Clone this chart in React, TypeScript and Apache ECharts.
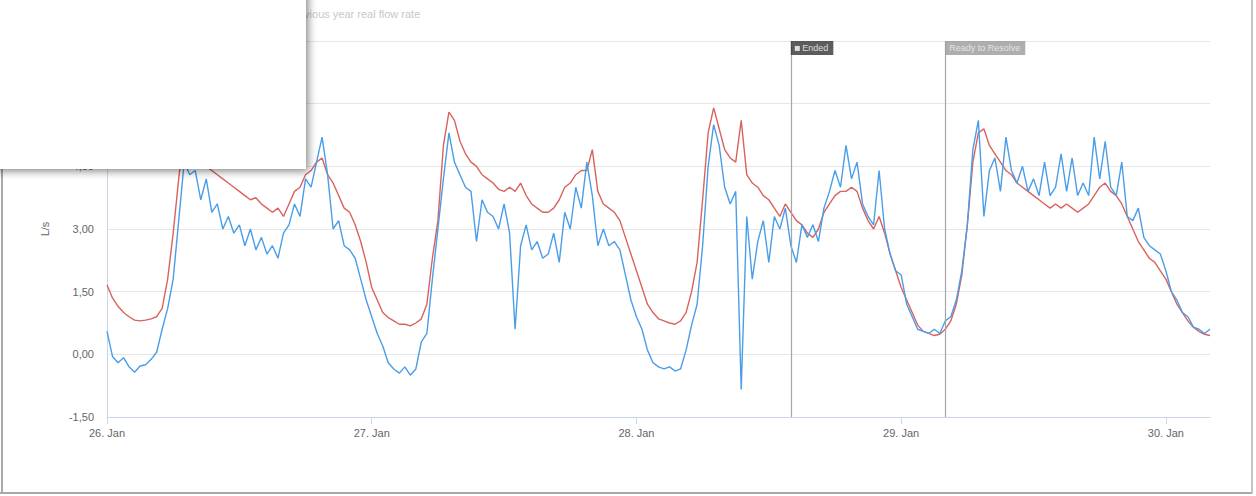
import React, { useEffect, useRef } from "react";
import * as echarts from "echarts";

// ---- time frame ----
const HOUR = 3600000;
const DAY = 24 * HOUR;
const START = Date.UTC(2021, 0, 26); // 26 Jan 00:00
const STEP = 30 * 60 * 1000; // half-hourly samples
const X_MAX = START + 4 * DAY + 4 * HOUR; // 30 Jan 04:00

const dayLabels = ["26. Jan", "27. Jan", "28. Jan", "29. Jan", "30. Jan"];
const dayValues = dayLabels.map((_, i) => START + i * DAY);

const yTicks = { min: -1.5, max: 7.5, interval: 1.5 };

const legendText = "Previous year real flow rate";
const axisName = "L/s";

// ---- events ----
const eventNames = ["Ended", "Ready to Resolve"];
const eventTimes = [START + 2 * DAY + 14 * HOUR, START + 3 * DAY + 4 * HOUR];

// ---- real flow rate (blue), L/s, every 30 min from 26 Jan 00:00 ----
const blue26 = [
  0.55, -0.05, -0.2, -0.08, -0.3, -0.43, -0.28, -0.25, -0.12, 0.05,
  0.6, 1.1, 1.8, 3.2, 4.6, 4.3, 4.4, 3.7, 4.2, 3.4,
  3.6, 3.0, 3.3, 2.9, 3.1, 2.6, 3.0, 2.5, 2.8, 2.4,
  2.6, 2.3, 2.9, 3.1, 3.6, 3.3, 4.2, 4.0, 4.6, 5.2,
  4.3, 3.0, 3.2, 2.6, 2.5, 2.3, 1.8, 1.3,
];
const blue27 = [
  0.9, 0.5, 0.2, -0.2, -0.35, -0.45, -0.3, -0.5, -0.35, 0.3,
  0.5, 1.8, 3.0, 4.2, 5.3, 4.6, 4.3, 4.0, 3.9, 2.7,
  3.7, 3.4, 3.3, 3.0, 3.6, 2.9, 0.6, 2.6, 3.1, 2.5,
  2.7, 2.3, 2.4, 2.9, 2.2, 3.4, 3.0, 4.0, 3.5, 4.6,
  3.8, 2.6, 3.0, 2.6, 2.7, 2.5, 1.9, 1.3,
];
const blue28 = [
  0.9, 0.6, 0.1, -0.2, -0.3, -0.35, -0.3, -0.4, -0.35, 0.1,
  0.7, 1.2, 2.6, 4.5, 5.5, 5.0, 4.0, 3.6, 3.9, -0.84,
  3.3, 1.8, 2.7, 3.2, 2.2, 3.3, 3.0, 3.5, 2.6, 2.2,
  3.1, 2.8, 3.1, 2.7, 3.5, 3.9, 4.4, 4.0, 5.0, 4.2,
  4.6, 3.6, 3.3, 3.1, 4.4, 3.0, 2.4, 2.0,
];
const blue29 = [
  1.9, 1.2, 0.9, 0.6, 0.55, 0.5, 0.6, 0.5, 0.8, 0.9,
  1.3, 2.0, 3.1, 4.9, 5.6, 3.3, 4.4, 4.7, 3.9, 5.2,
  4.4, 4.1, 4.5, 3.9, 4.2, 3.8, 4.6, 3.8, 4.0, 4.8,
  3.9, 4.7, 3.8, 4.1, 3.8, 5.2, 4.2, 5.1, 4.0, 3.8,
  4.6, 3.3, 3.2, 3.5, 2.8, 2.6, 2.5, 2.4,
];
const blue30 = [2.0, 1.5, 1.3, 1.0, 0.9, 0.65, 0.6, 0.5, 0.6];

// ---- previous year real flow rate (red), L/s, every 30 min ----
const red26 = [
  1.66, 1.35, 1.15, 1.0, 0.9, 0.82, 0.8, 0.82, 0.85, 0.9,
  1.1, 1.8, 2.9, 4.2, 5.3, 5.0, 4.8, 4.6, 4.5, 4.4,
  4.3, 4.2, 4.1, 4.0, 3.9, 3.8, 3.7, 3.75, 3.6, 3.5,
  3.4, 3.5, 3.3, 3.6, 3.9, 4.0, 4.3, 4.4, 4.6, 4.7,
  4.3, 4.1, 3.8, 3.5, 3.4, 3.1, 2.7, 2.2,
];
const red27 = [
  1.6, 1.3, 1.0, 0.88, 0.8, 0.72, 0.72, 0.68, 0.75, 0.85,
  1.2, 2.3, 3.2, 5.0, 5.8, 5.6, 5.1, 4.8, 4.6, 4.5,
  4.3, 4.2, 4.1, 3.95, 3.9, 4.0, 3.9, 4.1, 3.8, 3.6,
  3.5, 3.4, 3.4, 3.5, 3.7, 4.0, 4.1, 4.3, 4.4, 4.4,
  4.9, 3.9, 3.6, 3.5, 3.4, 3.2, 2.8, 2.4,
];
const red28 = [
  2.0, 1.6, 1.2, 1.0, 0.85, 0.8, 0.75, 0.72, 0.8, 1.0,
  1.5, 2.2, 3.7, 5.3, 5.9, 5.4, 4.9, 4.7, 4.6, 5.6,
  4.3, 4.1, 4.0, 3.8, 3.7, 3.5, 3.3, 3.6, 3.4, 3.2,
  3.1, 2.9, 2.8, 3.0, 3.4, 3.6, 3.8, 3.9, 3.9, 4.0,
  3.9, 3.5, 3.2, 3.0, 3.3, 2.9, 2.4, 2.0,
];
const red29 = [
  1.6, 1.3, 1.0, 0.7, 0.55, 0.5, 0.45, 0.48, 0.6, 0.8,
  1.2, 1.9, 3.1, 4.6, 5.3, 5.4, 5.0, 4.8, 4.6, 4.4,
  4.3, 4.1, 4.0, 3.9, 3.8, 3.7, 3.6, 3.5, 3.6, 3.5,
  3.6, 3.5, 3.4, 3.5, 3.6, 3.8, 4.0, 4.1, 3.9, 3.8,
  3.6, 3.3, 3.0, 2.7, 2.5, 2.3, 2.2, 2.0,
];
const red30 = [1.8, 1.5, 1.2, 1.0, 0.8, 0.65, 0.55, 0.48, 0.45];

const blueValues = [...blue26, ...blue27, ...blue28, ...blue29, ...blue30];
const redValues = [...red26, ...red27, ...red28, ...red29, ...red30];

const toPairs = (vals: number[]) => vals.map((v, i) => [START + i * STEP, v]);

const FONT = "'Liberation Sans', Arial, Helvetica, sans-serif";

export default function App() {
  const ref = useRef<HTMLDivElement>(null);

  useEffect(() => {
    if (!ref.current) return;
    const chart = echarts.init(ref.current, null, { renderer: "svg" });

    const eventStyles = [
      { backgroundColor: "#333333", color: "#ffffff", formatter: "{sq|} " + eventNames[0] },
      { backgroundColor: "#9a9a9a", color: "#f4f4f4", formatter: eventNames[1] },
    ];

    chart.setOption({
      animation: false,
      backgroundColor: "#ffffff",
      textStyle: { fontFamily: FONT },
      grid: { left: 107, right: 46, top: 41, bottom: 79, containLabel: false },
      xAxis: {
        type: "value",
        min: START,
        max: X_MAX,
        axisLine: { show: true, onZero: false, lineStyle: { color: "#ccd6eb", width: 1 } },
        axisTick: {
          show: true,
          customValues: dayValues,
          length: 7,
          lineStyle: { color: "#ccd6eb" },
        },
        axisLabel: {
          customValues: dayValues,
          formatter: (v: number) => {
            const idx = dayValues.indexOf(v);
            return idx >= 0 ? dayLabels[idx] : "";
          },
          color: "#666666",
          fontSize: 11,
          margin: 10,
          fontFamily: FONT,
        },
        splitLine: { show: false },
      },
      yAxis: {
        type: "value",
        min: yTicks.min,
        max: yTicks.max,
        interval: yTicks.interval,
        name: axisName,
        nameLocation: "middle",
        nameGap: 57,
        nameRotate: 90,
        nameTextStyle: { color: "#666666", fontSize: 11, fontFamily: FONT },
        axisLine: { show: true, lineStyle: { color: "#ccd6eb" } },
        axisTick: { show: false },
        axisLabel: {
          formatter: (v: number) => v.toFixed(2).replace(".", ","),
          color: "#666666",
          fontSize: 11,
          margin: 13,
          fontFamily: FONT,
        },
        splitLine: { show: true, lineStyle: { color: "#e6e6e6", width: 1 } },
      },
      series: [
        {
          name: legendText,
          type: "line",
          data: toPairs(redValues),
          showSymbol: false,
          symbol: "none",
          lineStyle: { color: "#d9625f", width: 1.4 },
          z: 2,
        },
        {
          name: "Real flow rate",
          type: "line",
          data: toPairs(blueValues),
          showSymbol: false,
          symbol: "none",
          lineStyle: { color: "#4a9de8", width: 1.4 },
          z: 3,
          markLine: {
            silent: true,
            symbol: ["none", "none"],
            label: { show: false },
            lineStyle: { color: "#a6a6a6", width: 1.2, type: "solid" },
            data: eventTimes.map((t) => ({ xAxis: t })),
          },
        },
        {
          type: "scatter",
          silent: true,
          symbolSize: 0.1,
          itemStyle: { color: "transparent" },
          z: 5,
          data: eventTimes.map((t, i) => ({
            value: [t, yTicks.max],
            label: {
              show: true,
              position: [0, 0],
              formatter: eventStyles[i].formatter,
              backgroundColor: eventStyles[i].backgroundColor,
              color: eventStyles[i].color,
              fontSize: 9,
              fontFamily: FONT,
              padding: [3, 5, 2, 4],
              rich: {
                sq: { width: 5, height: 5, backgroundColor: "#ffffff" },
              },
            },
          })),
        },
      ],
      graphic: [
        {
          type: "text",
          z: 50,
          left: 287,
          top: 8,
          style: { text: legendText, fill: "#c8c8c8", font: "11px " + FONT },
        },
        {
          type: "rect",
          z: 100,
          shape: { x: -10, y: -10, width: 316, height: 179 },
          style: {
            fill: "#ffffff",
            shadowBlur: 8,
            shadowColor: "rgba(0,0,0,0.5)",
            shadowOffsetX: 2,
            shadowOffsetY: 2,
          },
        },
        {
          type: "line",
          z: 90,
          shape: { x1: 2, y1: 160, x2: 2, y2: 494 },
          style: { stroke: "#a8a8a8", lineWidth: 2 },
        },
        {
          type: "line",
          z: 90,
          shape: { x1: 0, y1: 493, x2: 1253, y2: 493 },
          style: { stroke: "#a8a8a8", lineWidth: 2 },
        },
        {
          type: "line",
          z: 90,
          shape: { x1: 1252, y1: 0, x2: 1252, y2: 494 },
          style: { stroke: "#c4c4c4", lineWidth: 2 },
        },
      ],
    });

    return () => chart.dispose();
  }, []);

  return (
    <div
      ref={ref}
      style={{ position: "fixed", left: 0, top: 0, width: 1256, height: 496, background: "#fff" }}
    />
  );
}
